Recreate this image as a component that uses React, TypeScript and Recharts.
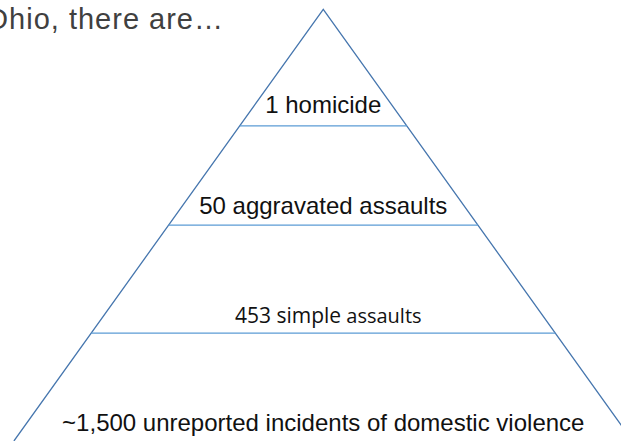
import { ComposedChart, Line, Scatter, XAxis, YAxis } from "recharts";

// pyramid tiers, top to bottom. depth runs 0 (apex) .. 100 (base),
// and the half width of the pyramid at a given depth equals that depth
const tierLabels = [
  "1 homicide",
  "50 aggravated assaults",
  "453 simple assaults",
  "~1,500 unreported incidents of domestic violence",
];
const tierDepth = [27, 50, 75, 100];

const heading = "Ohio, there are…";

// layout / styling only
const W = 621;
const H = 441;
const SIDE = "#4676ae";
const RULE = "#5b9bd5";
const labelGap = [13, 11, 10, 10];
const arial = "'Liberation Sans', Arial, sans-serif";

const sides = [
  { x: -100, y: 100 },
  { x: 0, y: 0 },
  { x: 100, y: 100 },
];
// inner rules (the base itself is not drawn)
const rules = tierDepth.slice(0, -1).map((d) => [
  { x: -d, y: d },
  { x: d, y: d },
]);
const labels = tierLabels.map((t, i) => ({ x: 0, y: tierDepth[i], label: t, i }));

function TierLabel(props: any) {
  const { cx, cy, payload } = props;
  const y = cy - labelGap[payload.i];
  if (payload.i === 2) {
    // this row was typed in a different (calibri-ish) font, mixed sizes
    const cut = payload.label.lastIndexOf(" ");
    return (
      <text x={cx + 5} y={y} textAnchor="middle" fill="#111" fontFamily="'Open Sans', sans-serif">
        <tspan fontSize="21px">{payload.label.slice(0, cut)}</tspan>
        <tspan fontSize="20px">{payload.label.slice(cut)}</tspan>
      </text>
    );
  }
  return (
    <text x={cx} y={y} textAnchor="middle" fill="#111" fontFamily={arial} fontSize="24px">
      {payload.label}
    </text>
  );
}

export default function App() {
  return (
    <div style={{ position: "absolute", left: 0, top: 0, width: W, height: H, overflow: "hidden", background: "#fff" }}>
      <ComposedChart width={W} height={H} margin={{ top: 0, right: 0, bottom: 0, left: 0 }}>
        <XAxis type="number" dataKey="x" hide domain={[-104.5, 96.25]} allowDataOverflow />
        <YAxis type="number" dataKey="y" hide reversed domain={[-2.15, 100]} allowDataOverflow />
        <Line
          data={sides}
          dataKey="y"
          stroke={SIDE}
          strokeWidth={1.3}
          dot={false}
          activeDot={false}
          isAnimationActive={false}
        />
        {rules.map((r, i) => (
          <Line
            key={i}
            data={r}
            dataKey="y"
            stroke={RULE}
            strokeWidth={1.3}
            dot={false}
            activeDot={false}
            isAnimationActive={false}
          />
        ))}
        <Scatter data={labels} dataKey="y" shape={TierLabel} isAnimationActive={false} />
      </ComposedChart>
      <div
        style={{
          position: "absolute",
          right: W - 224,
          top: 2,
          fontFamily: arial,
          fontSize: 29,
          letterSpacing: 1,
          color: "#404040",
          whiteSpace: "nowrap",
          lineHeight: "34px",
        }}
      >
        {heading}
      </div>
    </div>
  );
}
